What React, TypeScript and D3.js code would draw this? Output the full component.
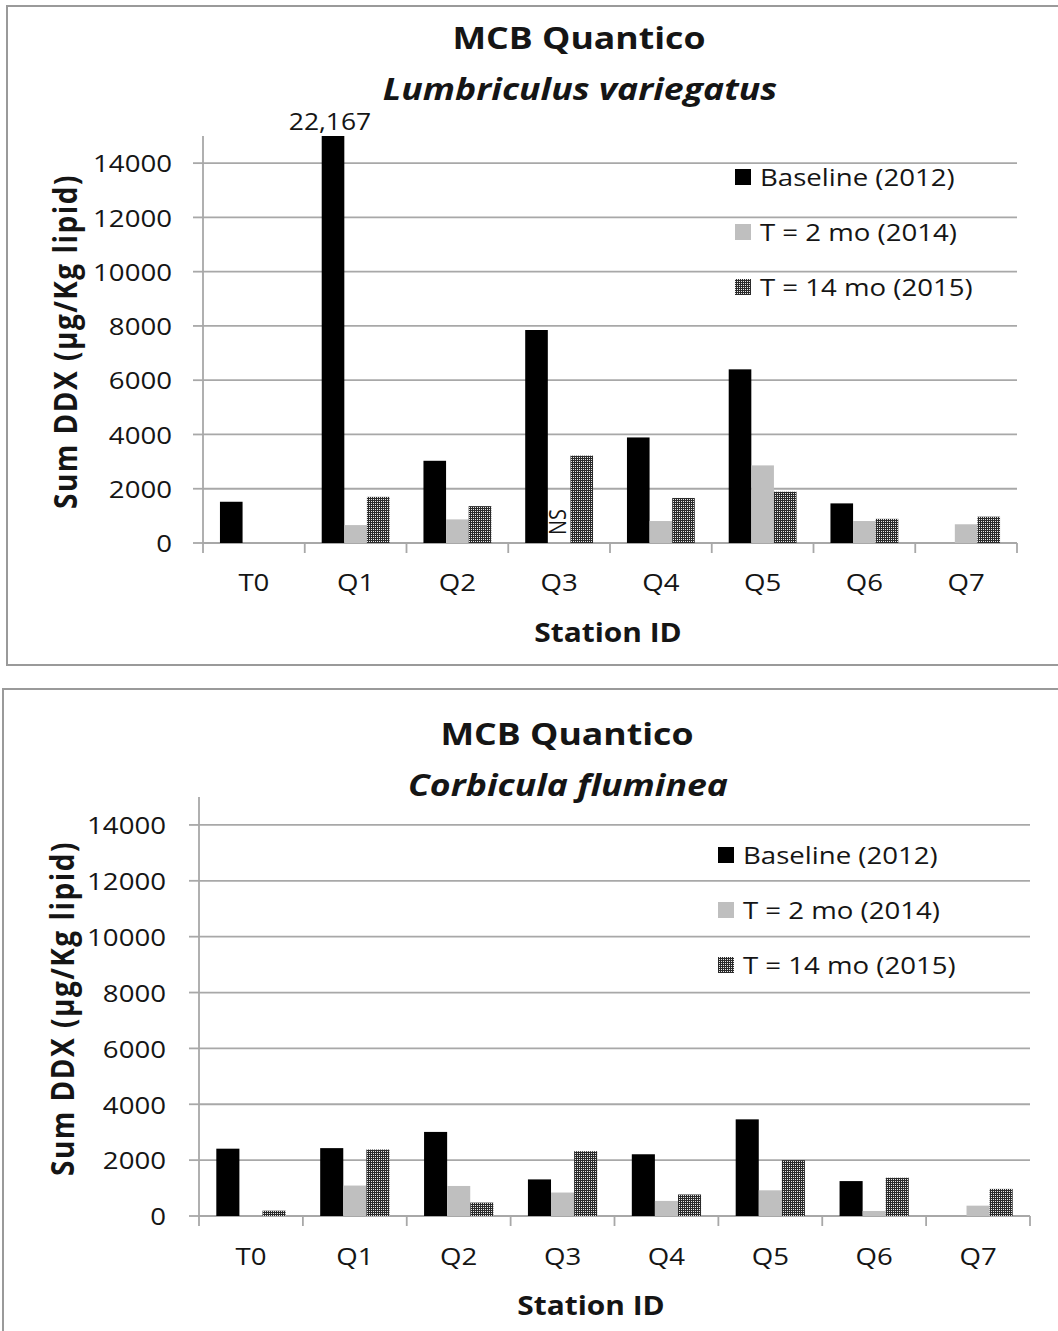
import React from "react";
import * as d3 from "d3";

const stations = ["T0", "Q1", "Q2", "Q3", "Q4", "Q5", "Q6", "Q7"];
const seriesNames = ["Baseline (2012)", "T = 2 mo (2014)", "T = 14 mo (2015)"];
const yTicks = [0, 2000, 4000, 6000, 8000, 10000, 12000, 14000];

// Lumbriculus variegatus (null = no bar)
const lumbBaseline = [1520, 22167, 3030, 7850, 3890, 6400, 1460, null];
const lumbT2 = [null, 660, 870, null, 810, 2860, 810, 690];
const lumbT14 = [null, 1700, 1360, 3220, 1660, 1890, 890, 970];

// Corbicula fluminea
const corbBaseline = [2410, 2430, 3010, 1310, 2210, 3460, 1250, null];
const corbT2 = [null, 1090, 1075, 840, 540, 920, 180, 370];
const corbT14 = [190, 2380, 480, 2320, 770, 2000, 1370, 970];

const FONT = "'Open Sans', 'DejaVu Sans', sans-serif";
const SX = 1.15;
const GRID = "#a8a8a8";
const fills = ["#000000", "#bfbfbf", "url(#hatch)"];

type TxtProps = {
  x: number;
  y: number;
  size: number;
  bold?: boolean;
  italic?: boolean;
  anchor?: string;
  rotate?: number;
  spacing?: number;
  children: React.ReactNode;
};

const Txt = ({ x, y, size, bold, italic, anchor = "middle", rotate = 0, spacing = 0, children }: TxtProps) => (
  <text
    transform={`translate(${x},${y}) scale(${SX},1) rotate(${rotate})`}
    fontFamily={FONT}
    fontSize={size}
    fontWeight={bold ? 700 : 400}
    fontStyle={italic ? "italic" : "normal"}
    letterSpacing={spacing}
    textAnchor={anchor}
    dominantBaseline="central"
    fill="#151515"
  >
    {children}
  </text>
);

type ChartProps = {
  species: string;
  values: (number | null)[][];
  box: { x: number; y: number; w: number; h: number };
  plot: { left: number; right: number; top: number; bottom: number };
  titleX: number;
  titleY: number;
  yTickX: number;
  yTitleX: number;
  xLabelY: number;
  xTitleX: number;
  xTitleY: number;
  legendX: number;
  legendYs: number[];
  clipLabel?: boolean;
  nsLabel?: boolean;
};

const Chart = (p: ChartProps) => {
  const { plot } = p;
  const y = d3.scaleLinear().domain([0, 15000]).range([plot.bottom, plot.top]).clamp(true);
  const x0 = d3
    .scaleBand()
    .domain(stations)
    .range([plot.left, plot.right])
    .paddingInner(1 / 3)
    .paddingOuter(1 / 6);
  const x1 = d3.scaleBand().domain(seriesNames).range([0, x0.bandwidth()]);
  const step = x0.step();

  return (
    <g>
      <rect x={p.box.x} y={p.box.y} width={p.box.w} height={p.box.h} fill="#fff" stroke="#9a9a9a" strokeWidth={2} />

      <Txt x={p.titleX} y={p.titleY} size={31} bold>MCB Quantico</Txt>
      <Txt x={p.titleX + 1} y={p.titleY + 51} size={31} bold italic>{p.species}</Txt>

      {yTicks.map((t) => (
        <g key={t}>
          <line x1={plot.left} x2={plot.right} y1={y(t)} y2={y(t)} stroke={GRID} strokeWidth={1.8} />
          <line x1={plot.left - 10} x2={plot.left} y1={y(t)} y2={y(t)} stroke={GRID} strokeWidth={1.8} />
          <Txt x={p.yTickX} y={y(t)} size={24} anchor="end">{t}</Txt>
        </g>
      ))}
      <line x1={plot.left} x2={plot.left} y1={plot.top} y2={plot.bottom} stroke={GRID} strokeWidth={1.8} />
      {d3.range(stations.length + 1).map((i) => (
        <line
          key={i}
          x1={plot.left + i * step}
          x2={plot.left + i * step}
          y1={plot.bottom}
          y2={plot.bottom + 10}
          stroke={GRID}
          strokeWidth={1.8}
        />
      ))}

      {p.values.map((vals, si) =>
        vals.map((v, ci) =>
          v == null ? null : (
            <rect
              key={`${si}-${ci}`}
              x={(x0(stations[ci]) ?? 0) + (x1(seriesNames[si]) ?? 0)}
              y={y(v)}
              width={x1.bandwidth()}
              height={y(0) - y(v)}
              fill={fills[si]}
            />
          )
        )
      )}

      {p.clipLabel && (
        <Txt
          x={(x0("Q1") ?? 0) + (x1(seriesNames[0]) ?? 0) + x1.bandwidth() / 2 - 3}
          y={plot.top - 15}
          size={23}
        >
          {d3.format(",")(p.values[0][1] as number)}
        </Txt>
      )}
      {p.nsLabel && (
        <Txt
          x={(x0("Q3") ?? 0) + (x1(seriesNames[1]) ?? 0) + x1.bandwidth() / 2 - 2}
          y={y(0) - 8}
          size={20}
          anchor="start"
          rotate={-90}
        >
          NS
        </Txt>
      )}

      {stations.map((s) => (
        <Txt key={s} x={(x0(s) ?? 0) + x0.bandwidth() / 2} y={p.xLabelY} size={24}>{s}</Txt>
      ))}
      <Txt x={p.xTitleX} y={p.xTitleY} size={26} bold>Station ID</Txt>
      <Txt x={p.yTitleX} y={(plot.top + plot.bottom) / 2 + 2} size={28} bold rotate={-90} spacing={1.5}>
        Sum DDX (μg/Kg lipid)
      </Txt>

      {seriesNames.map((n, i) => (
        <g key={n}>
          <rect x={p.legendX} y={p.legendYs[i] - 8} width={16} height={16} fill={fills[i]} />
          <Txt x={p.legendX + 25} y={p.legendYs[i]} size={24} anchor="start">{n}</Txt>
        </g>
      ))}
    </g>
  );
};

export default function App() {
  return (
    <svg
      width={1058}
      height={1331}
      style={{ position: "absolute", left: 0, top: 0, background: "#fff" }}
    >
      <defs>
        <pattern id="hatch" width={2} height={2} patternUnits="userSpaceOnUse">
          <rect width={2} height={2} fill="#2a2a2a" />
          <rect x={1} y={1} width={1} height={1} fill="#e6e6e6" />
        </pattern>
      </defs>
      <Chart
        species="Lumbriculus variegatus"
        values={[lumbBaseline, lumbT2, lumbT14]}
        box={{ x: 7, y: 6, w: 1060, h: 659 }}
        plot={{ left: 203, right: 1017, top: 136, bottom: 543 }}
        titleX={579}
        titleY={37}
        yTickX={172}
        yTitleX={65}
        xLabelY={582}
        xTitleX={608}
        xTitleY={632}
        legendX={735}
        legendYs={[177, 232, 287]}
        clipLabel
        nsLabel
      />
      <Chart
        species="Corbicula fluminea"
        values={[corbBaseline, corbT2, corbT14]}
        box={{ x: 3, y: 689, w: 1060, h: 700 }}
        plot={{ left: 199, right: 1030, top: 797, bottom: 1216 }}
        titleX={567}
        titleY={733}
        yTickX={166}
        yTitleX={62}
        xLabelY={1256}
        xTitleX={591}
        xTitleY={1305}
        legendX={718}
        legendYs={[855, 910, 965]}
      />
    </svg>
  );
}
